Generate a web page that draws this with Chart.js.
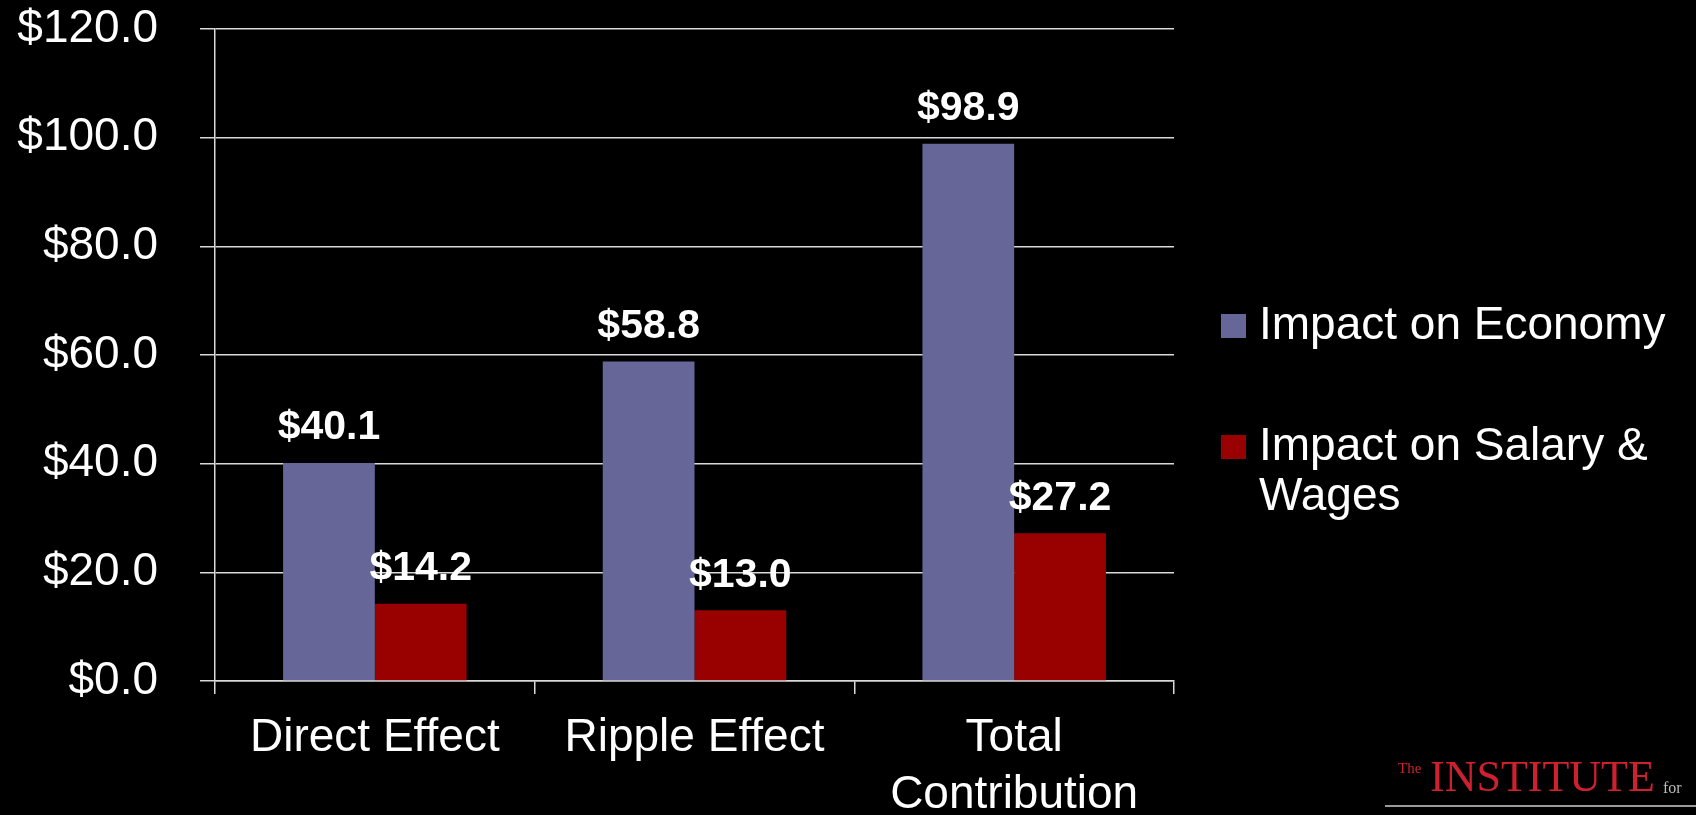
<!DOCTYPE html>
<html><head><meta charset="utf-8">
<script src="https://cdn.jsdelivr.net/npm/chart.js@4.4.0/dist/chart.umd.min.js"></script>
<style>
html,body{margin:0;padding:0;background:#000;overflow:hidden;}
#wrap{position:relative;width:1696px;height:815px;background:#000;}
canvas{display:block;}
.lg{position:absolute;font-family:'Liberation Serif','Times New Roman',serif;line-height:1;white-space:nowrap;}
</style></head><body>
<div id="wrap">
<canvas id="c" width="1696" height="815"></canvas>
<div class="lg" style="left:1398px;top:761px;font-size:15px;color:#cf2030;">The</div>
<div class="lg" style="left:1430px;top:755px;font-size:44px;color:#cf2030;">INSTITUTE</div>
<div class="lg" style="left:1663px;top:780px;font-size:16px;color:#bbbbbb;">for</div>
<div style="position:absolute;left:1385px;top:805px;width:311px;height:2px;background:#9a9a9a;"></div>
</div>
<script>
const categories = [['Direct Effect'], ['Ripple Effect'], ['Total', 'Contribution']];
const economyValues = [40.1, 58.8, 98.9];
const salaryValues = [14.2, 13.0, 27.2];
const seriesNames = ['Impact on Economy', 'Impact on Salary & Wages'];
const seriesColors = ['#666699', '#990000'];
const yMin = 0, yMax = 120, yStep = 20;

const FONT = "'Liberation Sans', Arial, sans-serif";

const valueLabels = {
  id: 'valueLabels',
  afterDatasetsDraw(chart) {
    const ctx = chart.ctx;
    ctx.save();
    ctx.fillStyle = '#ffffff';
    ctx.font = 'bold 41px ' + FONT;
    ctx.textAlign = 'center';
    ctx.textBaseline = 'middle';
    chart.data.datasets.forEach((ds, i) => {
      const meta = chart.getDatasetMeta(i);
      meta.data.forEach((bar, j) => {
        ctx.fillText('$' + ds.data[j].toFixed(1), bar.x, bar.y - 35);
      });
    });
    ctx.restore();
  }
};

const sideLegend = {
  id: 'sideLegend',
  afterDraw(chart) {
    const ctx = chart.ctx;
    ctx.save();
    ctx.font = '46px ' + FONT;
    ctx.textBaseline = 'middle';
    ctx.textAlign = 'left';
    const rows = [326, 447];
    const maxW = 430;
    chart.data.datasets.forEach((ds, i) => {
      const y = rows[i];
      ctx.fillStyle = ds.backgroundColor;
      ctx.fillRect(1221, y - 12, 25, 24);
      ctx.fillStyle = '#ffffff';
      const words = ds.label.split(' ');
      const lines = [];
      let cur = '';
      words.forEach(w => {
        const t = cur ? cur + ' ' + w : w;
        if (ctx.measureText(t).width > maxW && cur) { lines.push(cur); cur = w; }
        else cur = t;
      });
      if (cur) lines.push(cur);
      lines.forEach((ln, k) => ctx.fillText(ln, 1259, y + k * 50));
    });
    ctx.restore();
  }
};

new Chart(document.getElementById('c'), {
  type: 'bar',
  data: {
    labels: categories,
    datasets: [
      { label: seriesNames[0], data: economyValues, backgroundColor: seriesColors[0] },
      { label: seriesNames[1], data: salaryValues, backgroundColor: seriesColors[1] }
    ]
  },
  options: {
    responsive: false,
    animation: false,
    devicePixelRatio: 1,
    layout: { padding: { left: 15, right: 522, top: 29, bottom: 0 } },
    datasets: { bar: { categoryPercentage: 0.574, barPercentage: 1.0 } },
    plugins: { legend: { display: false }, tooltip: { enabled: false } },
    scales: {
      x: {
        afterFit(s) { s.height = 134; s.paddingLeft = 0; s.paddingRight = 0; },
        grid: { offset: true, drawOnChartArea: false, color: '#d9d9d9', lineWidth: 1.5, tickLength: 13 },
        border: { display: true, color: '#d9d9d9', width: 1.5 },
        ticks: { color: '#ffffff', font: { family: FONT, size: 46, lineHeight: 1.23 }, padding: 16, maxRotation: 0, autoSkip: false }
      },
      y: {
        min: yMin, max: yMax,
        afterFit(s) { s.width = 200; s.paddingTop = 0; s.paddingBottom = 0; },
        grid: { color: '#d9d9d9', lineWidth: 1.5, tickLength: 15 },
        border: { display: true, color: '#d9d9d9', width: 1.5 },
        ticks: { stepSize: yStep, color: '#ffffff', font: { family: FONT, size: 46 }, padding: 42,
          callback: v => '$' + Number(v).toFixed(1) }
      }
    }
  },
  plugins: [valueLabels, sideLegend]
});
</script>
</body></html>
